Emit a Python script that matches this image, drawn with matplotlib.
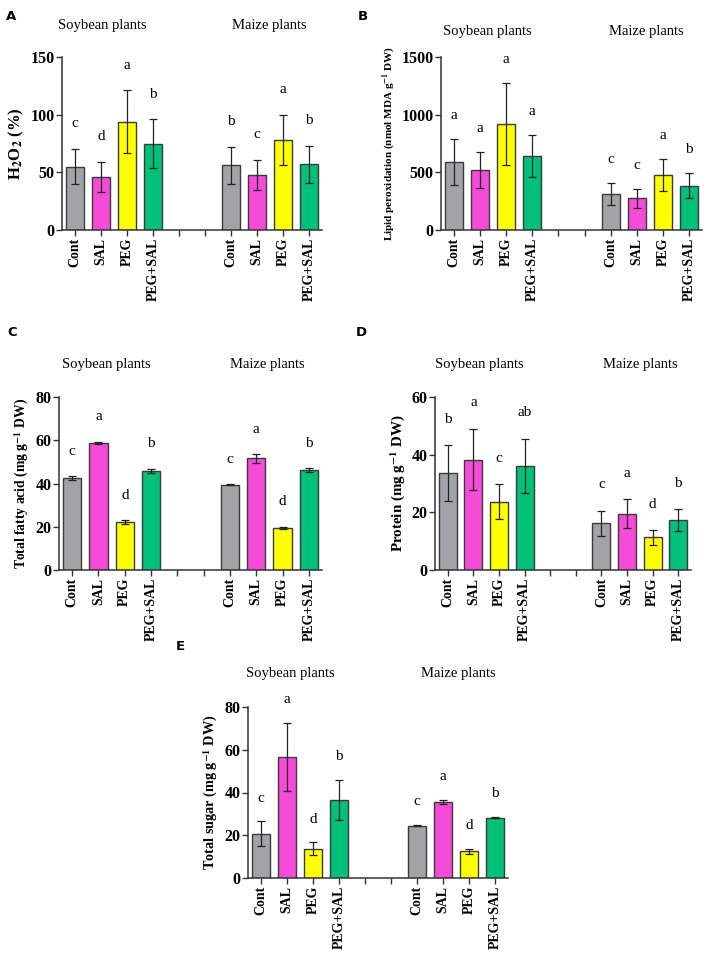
import matplotlib.pyplot as plt
import numpy as np

plt.rcParams['font.family'] = ['Liberation Serif', 'DejaVu Serif']
plt.rcParams['mathtext.fontset'] = 'stix'

treatments = ["Cont", "SAL", "PEG", "PEG+SAL"]
colors = ["#a3a3a7", "#f64ad8", "#ffff00", "#00c07a"]

# panel A: H2O2
h2o2_soy = [55, 46, 94, 75]
h2o2_soy_err = [15.5, 13, 27, 21]
h2o2_maize = [56, 48, 78, 57]
h2o2_maize_err = [16, 13, 22, 16]
h2o2_letters_soy = ["c", "d", "a", "b"]
h2o2_letters_maize = ["b", "c", "a", "b"]

# panel B: lipid peroxidation
mda_soy = [591, 521, 921, 643]
mda_soy_err = [197, 157, 356, 182]
mda_maize = [310, 275, 475, 385]
mda_maize_err = [95, 81, 139, 110]
mda_letters_soy = ["a", "a", "a", "a"]
mda_letters_maize = ["c", "c", "a", "b"]

# panel C: total fatty acid
fa_soy = [42.6, 58.8, 22.3, 45.8]
fa_soy_err = [0.9, 0.6, 0.9, 1.1]
fa_maize = [39.5, 51.7, 19.5, 46.3]
fa_maize_err = [0.3, 2.0, 0.6, 0.8]
fa_letters_soy = ["c", "a", "d", "b"]
fa_letters_maize = ["c", "a", "d", "b"]

# panel D: protein
prot_soy = [33.7, 38.3, 23.7, 36.2]
prot_soy_err = [9.6, 10.7, 6.1, 9.4]
prot_maize = [16.2, 19.5, 11.3, 17.2]
prot_maize_err = [4.4, 5.1, 2.5, 3.8]
prot_letters_soy = ["b", "a", "c", "ab"]
prot_letters_maize = ["c", "a", "d", "b"]

# panel E: total sugar
sug_soy = [20.7, 56.8, 13.7, 36.5]
sug_soy_err = [5.8, 15.9, 3.1, 9.5]
sug_maize = [24.5, 35.6, 12.5, 28.2]
sug_maize_err = [0.3, 0.9, 1.3, 0.3]
sug_letters_soy = ["c", "a", "d", "b"]
sug_letters_maize = ["c", "a", "d", "b"]

fig = plt.figure(figsize=(7.08, 9.58), dpi=100)
W, H = 708, 958


def px_axes(left, right, top, bottom):
    return fig.add_axes([left / W, 1 - bottom / H, (right - left) / W, (bottom - top) / H])


def draw_panel(ax, soy, soy_err, maize, maize_err, let_soy, let_maize,
               ymax, ystep, ylabel, ylabel_size, letter_gap):
    vals = list(soy) + list(maize)
    errs = list(soy_err) + list(maize_err)
    lets = list(let_soy) + list(let_maize)
    xs = [0, 1, 2, 3, 6, 7, 8, 9]
    ax.bar(xs, vals, width=0.7, color=colors * 2, edgecolor="#3a3a3a", linewidth=1.0, zorder=2)
    ax.errorbar(xs, vals, yerr=errs, fmt="none", ecolor="#222222", elinewidth=0.9,
                capsize=3, capthick=0.9, zorder=3)
    for x, v, e, l in zip(xs, vals, errs, lets):
        ax.text(x, v + e + letter_gap * ymax, l, ha="center", va="center",
                fontsize=11, clip_on=False)
    ax.set_xlim(-0.5, 9.5)
    ax.set_ylim(0, ymax)
    ax.set_yticks(np.arange(0, ymax + 1e-9, ystep))
    ax.set_xticks(range(10))
    ax.set_xticklabels(treatments + ["", ""] + treatments, rotation=90,
                       fontweight="bold", fontsize=10)
    for lab in ax.get_yticklabels():
        lab.set_fontweight("bold")
        lab.set_fontsize(11.5)
    ax.spines["top"].set_visible(False)
    ax.spines["right"].set_visible(False)
    for s in ("left", "bottom"):
        ax.spines[s].set_linewidth(1.1)
        ax.spines[s].set_color("#333333")
    ax.tick_params(direction="out", length=4, width=1.0, color="#333333", pad=1.5)
    ax.set_ylabel(ylabel, fontweight="bold", fontsize=ylabel_size, labelpad=3)


axA = px_axes(62, 322, 57, 230)
draw_panel(axA, h2o2_soy, h2o2_soy_err, h2o2_maize, h2o2_maize_err,
           h2o2_letters_soy, h2o2_letters_maize, 150, 50,
           r"H$_\mathbf{2}$O$_\mathbf{2}$ (%)", 12, 0.145)

axB = px_axes(441, 702, 57, 230)
draw_panel(axB, mda_soy, mda_soy_err, mda_maize, mda_maize_err,
           mda_letters_soy, mda_letters_maize, 1500, 500,
           r"Lipid peroxidation (nmol MDA g$^{\mathbf{-1}}$ DW)", 8, 0.135)

axC = px_axes(59, 322, 397, 570)
draw_panel(axC, fa_soy, fa_soy_err, fa_maize, fa_maize_err,
           fa_letters_soy, fa_letters_maize, 80, 20,
           r"Total fatty acid (mg g$^{\mathbf{-1}}$ DW)", 9.8, 0.143)

axD = px_axes(435, 691, 397, 570)
draw_panel(axD, prot_soy, prot_soy_err, prot_maize, prot_maize_err,
           prot_letters_soy, prot_letters_maize, 60, 20,
           r"Protein (mg g$^{\mathbf{-1}}$ DW)", 10.8, 0.15)

axE = px_axes(248, 508, 707, 878)
draw_panel(axE, sug_soy, sug_soy_err, sug_maize, sug_maize_err,
           sug_letters_soy, sug_letters_maize, 80, 20,
           r"Total sugar (mg g$^{\mathbf{-1}}$ DW)", 10.3, 0.135)

# group titles (figure pixel positions)
titles = [(102, 25, 269, 25), (487, 32, 646, 32), (106, 364, 267, 364),
          (479, 364, 640, 364), (290, 673, 458, 673)]
for sx, sy, mx, my in titles:
    fig.text(sx / W, 1 - sy / H, "Soybean plants", ha="center", va="center", fontsize=10.5)
    fig.text(mx / W, 1 - my / H, "Maize plants", ha="center", va="center", fontsize=10.5)

panel_tags = [("A", 11, 16), ("B", 363, 16), ("C", 12, 332), ("D", 361, 332), ("E", 180, 646)]
for t, x, y in panel_tags:
    fig.text(x / W, 1 - y / H, t, ha="center", va="center", fontsize=9.5,
             fontweight="bold", family="DejaVu Sans")

fig.savefig("out.png", dpi=100)
